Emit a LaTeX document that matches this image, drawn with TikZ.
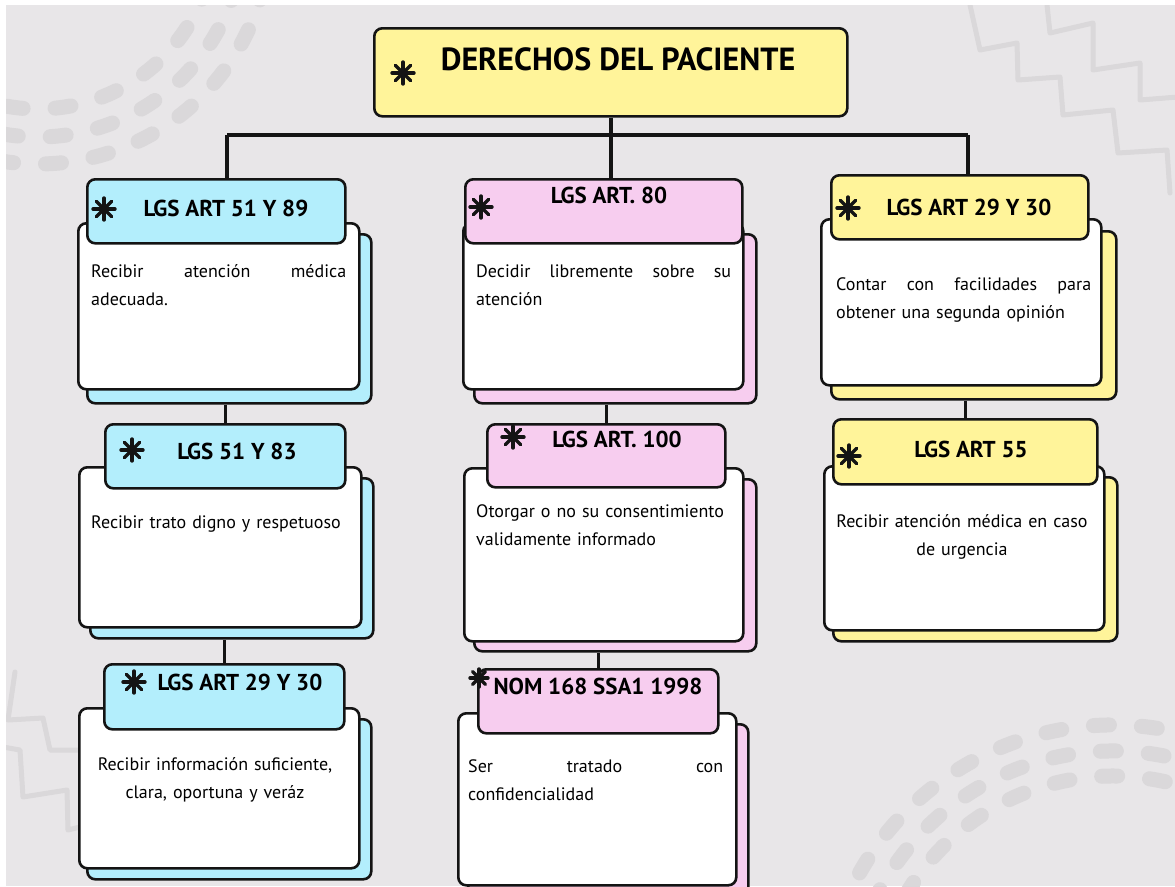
\documentclass[tikz,border=0pt]{standalone}
\usepackage{fontspec}
\setmainfont{PT Sans}
\usetikzlibrary{positioning}

\definecolor{ink}{HTML}{141414}
\definecolor{bggray}{HTML}{E8E6E8}
\definecolor{decogray}{HTML}{DAD8DA}
\definecolor{yelC}{HTML}{FFF49A}
\definecolor{bluC}{HTML}{B3EEFC}
\definecolor{pnkC}{HTML}{F7CDEF}

\tikzset{
  cardback/.style={draw=ink, line width=2.6pt, rounded corners=8pt, anchor=north west, inner sep=0pt},
  cardbody/.style={cardback, fill=white},
  starmark/.style={minimum size=26pt, inner sep=0pt, path picture={
      \foreach \a in {0,45,90,135}
        \draw[ink, line width=3.4pt, line cap=round] (path picture bounding box.center) ++(\a:#1) -- ++(\a:-2*#1);}},
  starmark/.default=11pt,
  headtxt/.style={font=\bfseries\fontsize{23}{23}\selectfont, anchor=base, inner sep=0pt},
  bodytxt/.style={font=\fontsize{18}{28}\selectfont, anchor=base west, inner sep=0pt, text width=255pt, align=left},
  link/.style={draw=ink, line width=3.5pt},
  decodash/.style={draw=decogray, line width=15pt, line cap=round, dash pattern=on 16pt off 32pt},
  zigline/.style={draw=decogray, line width=5pt, line join=round, line cap=round}
}

\begin{document}
\begin{tikzpicture}[x=1pt,y=-1pt]
\useasboundingbox (0,0) rectangle (1175,886);
\fill[bggray] (6,5) rectangle (1175,886);

% background marks
\begin{scope}
\clip (6,5) rectangle (1175,886);
\draw[decodash] (38,-68) ++(100:177) arc[start angle=100, end angle=-5, radius=177];
\draw[decodash] (38,-68) ++(100:205) arc[start angle=100, end angle=-5, radius=205];
\draw[decodash] (38,-68) ++(100:232) arc[start angle=100, end angle=-5, radius=232];
\draw[decodash] (1113,1016) ++(200:291) arc[start angle=200, end angle=290, radius=291];
\draw[decodash] (1113,1016) ++(205:265) arc[start angle=205, end angle=290, radius=265];
\draw[decodash] (1113,1016) ++(210:240) arc[start angle=210, end angle=290, radius=240];
\draw[zigline] (970,5) -- (980,50) -- (1017,43) -- (1018,80) -- (1060,77) -- (1063,115) -- (1113,110) -- (1118,153) -- (1167,150) -- (1170,193);
\draw[zigline] (1047,5) -- (1050,33) -- (1093,23) -- (1093,70) -- (1140,63) -- (1140,100) -- (1178,97);
\draw[zigline] (15,672) -- (8,720) -- (43,718) -- (50,750) -- (78,750);
\draw[zigline] (3,747) -- (20,750) -- (23,797) -- (67,790) -- (68,830) -- (80,827);
\end{scope}

% title
\node[cardback, fill=yelC, minimum width=473pt, minimum height=88pt] (t) at (373,27) {};
\node[starmark] (ts) at (403,73) {};
\node[headtxt, font=\bfseries\fontsize{32}{32}\selectfont] (tt) at (618,70) {DERECHOS DEL PACIENTE};

% first column
\node[cardback, fill=bluC, minimum width=284pt, minimum height=169pt] (b1back) at (86,233) {};
\node[cardbody, minimum width=281pt, minimum height=166pt] (b1card) at (77,222) {};
\node[cardback, fill=bluC, minimum width=258pt, minimum height=64pt] (b1head) at (86,178) {};
\node[starmark] (b1star) at (104,209) {};
\node[headtxt] (b1title) at (226,216) {LGS ART 51 Y 89};
\node[bodytxt] (b1text) at (91,277) {Recibir\hfill atención\hfill médica\\adecuada.};

\node[cardback, fill=bluC, minimum width=283pt, minimum height=160pt] (b2back) at (89,477) {};
\node[cardbody, minimum width=282pt, minimum height=160pt] (b2card) at (78,466) {};
\node[cardback, fill=bluC, minimum width=240pt, minimum height=64pt] (b2head) at (104,423) {};
\node[starmark] (b2star) at (132,450) {};
\node[headtxt] (b2title) at (237,459) {LGS 51 Y 83};
\node[bodytxt] (b2text) at (91,528) {Recibir trato digno y respetuoso};

\node[cardback, fill=bluC, minimum width=284pt, minimum height=160pt] (b3back) at (86,718) {};
\node[cardbody, minimum width=280pt, minimum height=160pt] (b3card) at (78,707) {};
\node[cardback, fill=bluC, minimum width=240pt, minimum height=65pt] (b3head) at (103,663) {};
\node[starmark] (b3star) at (134,682) {};
\node[headtxt] (b3title) at (240,690) {LGS ART 29 Y 30};
\node[bodytxt, anchor=base, align=center] (b3text) at (215,770) {Recibir información suficiente,\\clara, oportuna y veráz};

% second column
\node[cardback, fill=pnkC, minimum width=282pt, minimum height=169pt] (p1back) at (473,233) {};
\node[cardbody, minimum width=280pt, minimum height=166pt] (p1card) at (462,222) {};
\node[cardback, fill=pnkC, minimum width=277pt, minimum height=64pt] (p1head) at (464,178) {};
\node[starmark] (p1star) at (481,207) {};
\node[headtxt] (p1title) at (609,203) {LGS ART. 80};
\node[bodytxt] (p1text) at (476,277) {Decidir\hfill libremente\hfill sobre\hfill su\\atención};

\node[cardback, fill=pnkC, minimum width=282pt, minimum height=172pt] (p2back) at (473,478) {};
\node[cardbody, minimum width=279pt, minimum height=173pt] (p2card) at (463,467) {};
\node[cardback, fill=pnkC, minimum width=238pt, minimum height=63pt] (p2head) at (486,423) {};
\node[starmark] (p2star) at (513,437) {};
\node[headtxt] (p2title) at (617,447) {LGS ART. 100};
\node[bodytxt] (p2text) at (476,517) {Otorgar o no su consentimiento\\validamente informado};

\node[cardback, fill=pnkC, minimum width=280pt, minimum height=177pt] (p3back) at (467,723) {};
\node[cardbody, minimum width=278pt, minimum height=172pt] (p3card) at (457,712) {};
\node[cardback, fill=pnkC, minimum width=240pt, minimum height=64pt] (p3head) at (477,668) {};
\node[starmark=9pt] (p3star) at (479,678) {};
\node[headtxt] (p3title) at (598,694) {NOM 168 SSA1 1998};
\node[bodytxt] (p3text) at (468,772) {Ser\hfill tratado\hfill con\\confidencialidad};

% third column
\node[cardback, fill=yelC, minimum width=285pt, minimum height=168pt] (y1back) at (830,230) {};
\node[cardbody, minimum width=280pt, minimum height=166pt] (y1card) at (820,218) {};
\node[cardback, fill=yelC, minimum width=257pt, minimum height=64pt] (y1head) at (830,174) {};
\node[starmark] (y1star) at (848,208) {};
\node[headtxt] (y1title) at (969,215) {LGS ART 29 Y 30};
\node[bodytxt] (y1text) at (836,290) {Contar\hfill con\hfill facilidades\hfill para\\obtener una segunda opinión};

\node[cardback, fill=yelC, minimum width=284pt, minimum height=164pt] (y2back) at (832,476) {};
\node[cardbody, minimum width=280pt, minimum height=164pt] (y2card) at (823,465) {};
\node[cardback, fill=yelC, minimum width=264pt, minimum height=65pt] (y2head) at (832,418) {};
\node[starmark] (y2star) at (849,456) {};
\node[headtxt] (y2title) at (971,457) {LGS ART 55};
\node[bodytxt, anchor=base, align=center] (y2text) at (962,527) {Recibir atención médica en caso\\de urgencia};

% links
\coordinate (busL) at (227,135);
\coordinate (busR) at (968,135);
\draw[link] (busL) -- (busR);
\draw[link] (t.south) -- (t.south |- p1head.north);
\draw[link] (busL) -- (busL |- b1head.north);
\draw[link] (busR) -- (busR |- y1head.north);
\draw[link] (b2head.north) -- (b2head.north |- b1back.south);
\draw[link] (b3head.north) -- (b3head.north |- b2back.south);
\draw[link] (p2head.north) -- (p2head.north |- p1back.south);
\draw[link] (p3head.north) -- (p3head.north |- p2back.south);
\draw[link] (y2head.north) -- (y2head.north |- y1back.south);
\end{tikzpicture}
\end{document}
